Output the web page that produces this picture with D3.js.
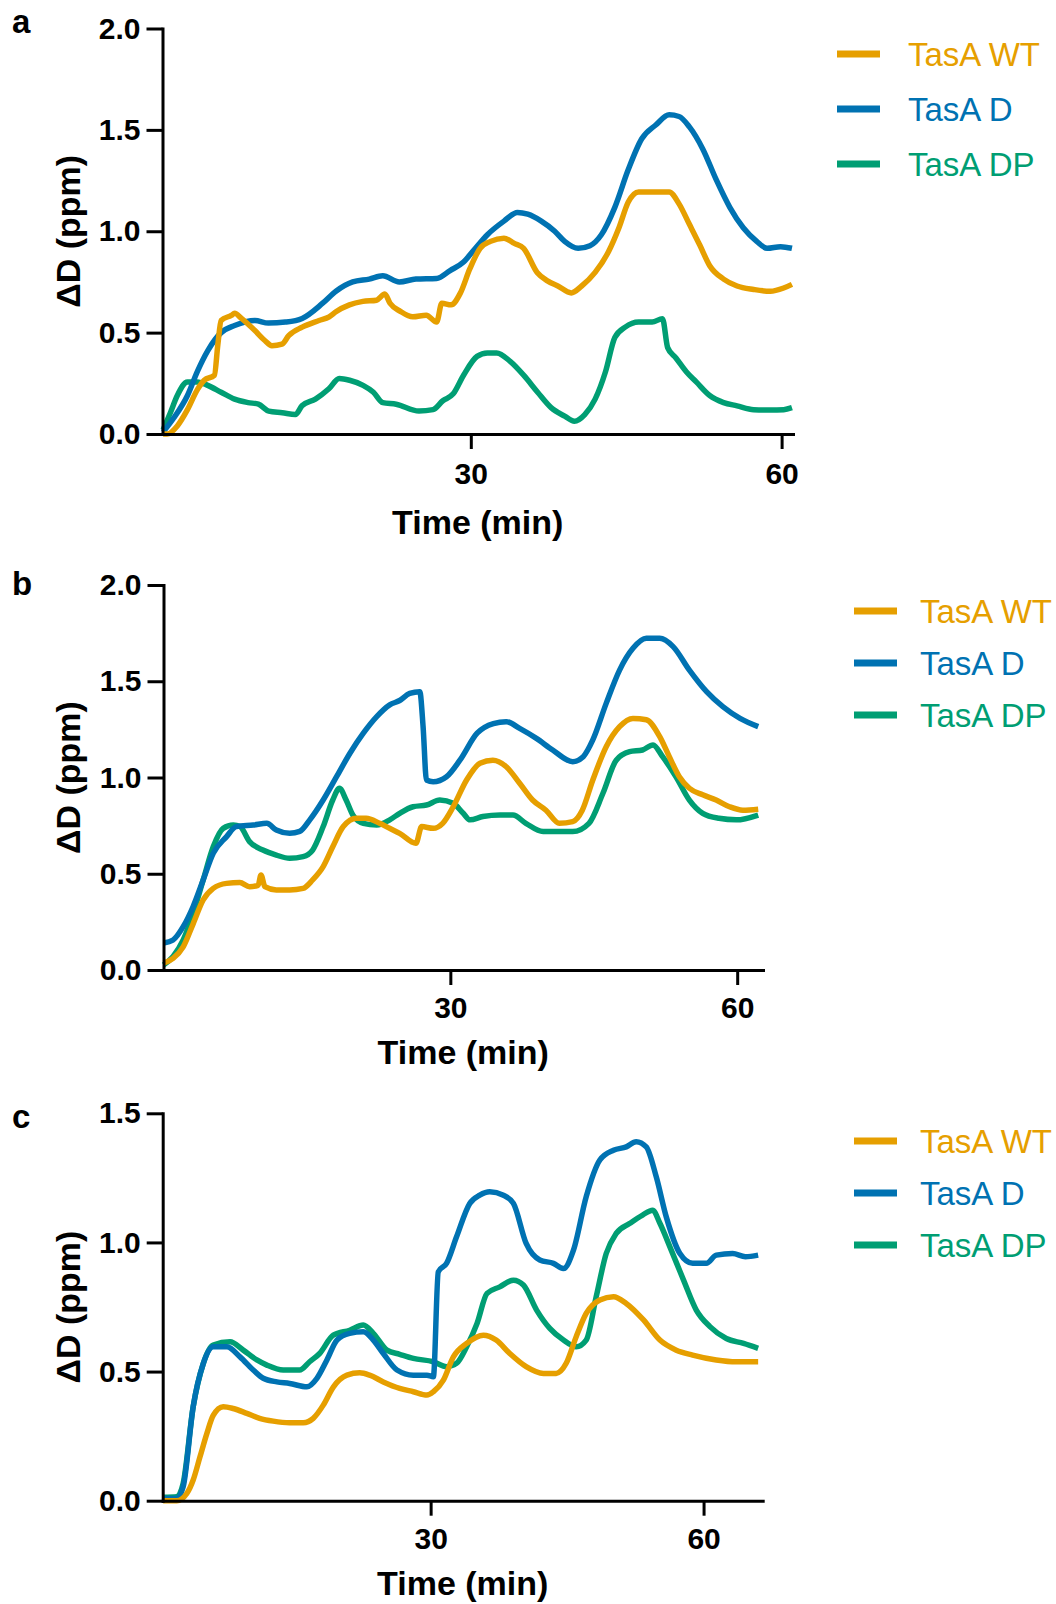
<!DOCTYPE html>
<html>
<head>
<meta charset="utf-8">
<script src="https://cdn.jsdelivr.net/npm/d3@7"></script>
<style>
  html, body { margin: 0; padding: 0; background: #fff; }
  svg { display: block; }
  text { font-family: Arial, "Liberation Sans", sans-serif; }
</style>
</head>
<body>
<svg id="chart" width="1056" height="1604"></svg>
<script>
// ---------------- data (time in min, ΔD in ppm) ----------------
const seriesNames = ["TasA WT", "TasA D", "TasA DP"];
const seriesColors = ["#E69F00", "#0072B2", "#009E73"];
const panelLetters = ["a", "b", "c"];
const xTickValues = [30, 60];
const yTicksAB = [0, 0.5, 1.0, 1.5, 2.0];
const yTicksC = [0, 0.5, 1.0, 1.5];
const xTitle = "Time (min)";
const yTitle = "ΔD (ppm)";

const aWT = [[0.3,0.0],[0.69,0.0],[1.67,0.04],[2.65,0.12],[3.62,0.22],[4.27,0.265],[5.25,0.29],[5.58,0.44],[5.9,0.56],[6.88,0.585],[7.2,0.595],[7.86,0.57],[9.16,0.51],[10.14,0.46],[10.8,0.435],[11.77,0.443],[12.42,0.485],[13.72,0.527],[15.35,0.56],[16.33,0.578],[16.98,0.603],[18.28,0.637],[19.58,0.654],[20.9,0.66],[21.7,0.69],[22.2,0.645],[23.2,0.605],[24.4,0.578],[25.7,0.586],[26.7,0.552],[27.2,0.645],[28.1,0.637],[29,0.696],[29.9,0.814],[30.9,0.916],[31.9,0.95],[33.2,0.966],[34.2,0.94],[35.1,0.916],[36.4,0.797],[37.4,0.755],[38.4,0.73],[39.7,0.696],[40.7,0.73],[42,0.797],[43.3,0.9],[44.3,1.017],[45.2,1.144],[46.2,1.194],[47.85,1.194],[49.15,1.194],[50.1,1.135],[51.1,1.034],[52.1,0.932],[53.06,0.83],[54.4,0.764],[55.7,0.73],[57.3,0.713],[58.9,0.704],[60.2,0.72],[61,0.738]];
const aD = [[0.3,0.01],[1.34,0.08],[2.65,0.19],[3.62,0.31],[4.6,0.41],[5.9,0.5],[7.2,0.535],[9.16,0.56],[10.46,0.547],[12.1,0.552],[13.72,0.57],[15.7,0.645],[16.98,0.704],[18.6,0.75],[20.2,0.764],[21.5,0.78],[23.1,0.75],[24.7,0.764],[26.7,0.767],[28,0.806],[29.3,0.848],[30.3,0.907],[31.6,0.983],[33.2,1.05],[34.5,1.093],[35.5,1.084],[36.8,1.05],[38.1,1.0],[39.06,0.95],[40.36,0.916],[41.5,0.929],[42.6,0.983],[43.9,1.118],[45.2,1.304],[46.5,1.456],[47.85,1.524],[49.15,1.574],[50.1,1.566],[51.1,1.515],[52.4,1.405],[53.7,1.253],[55,1.118],[56.3,1.017],[57.6,0.95],[58.6,0.916],[59.9,0.924],[61,0.916]];
const aDP = [[0.3,0.02],[1.0,0.105],[1.67,0.19],[2.65,0.257],[3.6,0.257],[4.6,0.24],[5.9,0.206],[7.2,0.172],[8.5,0.155],[9.5,0.147],[10.5,0.113],[11.8,0.105],[13.07,0.096],[13.7,0.139],[15.0,0.172],[16.3,0.223],[17.3,0.274],[18.3,0.265],[19.6,0.24],[20.6,0.206],[21.5,0.155],[22.8,0.147],[25,0.113],[26.35,0.12],[27.3,0.164],[28.3,0.198],[29.3,0.29],[30.6,0.383],[31.6,0.4],[32.5,0.4],[33.8,0.358],[35.1,0.29],[36.45,0.206],[37.75,0.13],[39.06,0.088],[40,0.063],[41,0.096],[42,0.172],[43,0.307],[43.9,0.476],[44.9,0.527],[46.2,0.552],[47.5,0.552],[48.5,0.569],[49,0.426],[49.8,0.375],[50.8,0.307],[51.76,0.257],[53.06,0.19],[54.4,0.155],[55.7,0.139],[57.3,0.12],[58.9,0.118],[60.2,0.12],[61,0.13]];

const bWT = [[0,0.035],[1.0,0.06],[2.06,0.12],[3.1,0.24],[4.15,0.364],[5.2,0.424],[6.6,0.45],[7.98,0.454],[9.0,0.433],[9.9,0.44],[10.2,0.494],[10.6,0.433],[11.8,0.416],[13.2,0.416],[14.6,0.424],[15.6,0.468],[16.7,0.537],[17.7,0.64],[18.8,0.745],[20.2,0.788],[21.2,0.788],[22.6,0.762],[23.65,0.736],[24.7,0.71],[26.4,0.658],[27,0.745],[28.2,0.736],[29.2,0.762],[30.3,0.848],[31.7,0.987],[33.1,1.074],[34.45,1.09],[35.85,1.056],[37.25,0.97],[38.6,0.883],[40.0,0.83],[41.4,0.762],[42.8,0.771],[43.8,0.83],[44.9,0.987],[46.3,1.16],[47.7,1.264],[49.1,1.307],[50.5,1.3],[51.9,1.212],[52.9,1.108],[53.95,1.004],[55,0.944],[56.4,0.91],[57.8,0.883],[59.2,0.848],[60.6,0.83],[62.2,0.835]];
const bD = [[0,0.14],[1,0.156],[2.06,0.225],[3.1,0.33],[4.15,0.468],[5.2,0.606],[6.6,0.693],[7.6,0.745],[9.4,0.753],[10.8,0.762],[11.8,0.727],[13.2,0.71],[14.25,0.72],[15.3,0.78],[16.7,0.883],[18.1,1.004],[19.5,1.126],[20.9,1.23],[22.3,1.316],[23.66,1.377],[24.7,1.4],[25.75,1.437],[26.8,1.446],[27.15,1.264],[27.5,0.987],[28.2,0.978],[29.6,1.004],[31.0,1.09],[32.8,1.23],[34.5,1.28],[35.85,1.29],[37.25,1.255],[39,1.203],[40.7,1.143],[42.8,1.082],[43.9,1.108],[44.9,1.195],[46.3,1.385],[47.7,1.558],[49.1,1.671],[50.5,1.723],[51.9,1.723],[53.3,1.68],[55,1.558],[56.8,1.446],[58.5,1.368],[60.3,1.307],[62.2,1.264]];
const bDP = [[0,0.026],[1,0.07],[2.06,0.156],[3.1,0.294],[4.15,0.468],[5.2,0.64],[6.24,0.736],[7.3,0.753],[8.0,0.745],[9.0,0.667],[10.4,0.623],[11.8,0.597],[13.2,0.58],[14.6,0.589],[15.6,0.623],[16.7,0.745],[17.7,0.883],[18.4,0.944],[19.1,0.883],[19.8,0.805],[20.9,0.762],[22.3,0.753],[23.66,0.78],[24.7,0.814],[26.1,0.848],[27.5,0.857],[28.9,0.883],[30.3,0.866],[31.35,0.814],[32.06,0.78],[33.4,0.797],[35.2,0.805],[36.55,0.805],[37.9,0.762],[39.7,0.719],[41.4,0.719],[42.8,0.719],[44.5,0.762],[45.96,0.918],[47.35,1.09],[48.75,1.134],[50.1,1.143],[51.2,1.169],[52.2,1.108],[53.6,1.004],[55,0.883],[56.4,0.814],[58.1,0.788],[59.9,0.78],[62.2,0.805]];

const cWT = [[0.6,0],[2.1,0],[3.2,0.028],[3.9,0.08],[4.65,0.17],[5.4,0.26],[6.1,0.33],[7.2,0.364],[8.3,0.357],[9.8,0.338],[11.2,0.319],[12.7,0.308],[14.5,0.302],[16,0.302],[17.1,0.319],[18.2,0.37],[19.3,0.44],[20.8,0.486],[22.2,0.495],[23.3,0.486],[24.8,0.46],[26.6,0.435],[28.1,0.422],[29.6,0.409],[30.3,0.422],[31.4,0.467],[32.5,0.557],[33.96,0.609],[35.8,0.641],[37.2,0.622],[38.7,0.57],[40.5,0.519],[42.4,0.493],[43.8,0.493],[44.9,0.532],[46,0.635],[47.1,0.725],[48.6,0.777],[50.1,0.79],[51.5,0.764],[53.4,0.7],[55.2,0.622],[57,0.583],[58.8,0.564],[61.4,0.545],[63.6,0.538],[66,0.538]];
const cD = [[0.6,0.009],[2.1,0.009],[2.8,0.054],[3.9,0.364],[5.0,0.53],[6.1,0.596],[7.6,0.596],[9.05,0.557],[10.5,0.506],[11.6,0.474],[13.1,0.46],[14.5,0.454],[16.4,0.441],[17.5,0.474],[18.6,0.545],[19.7,0.622],[21.1,0.648],[22.6,0.654],[23.7,0.622],[24.8,0.57],[26.3,0.506],[28.1,0.486],[29.6,0.486],[30.3,0.48],[30.84,0.886],[31.75,0.919],[32.85,1.022],[34.3,1.151],[35.4,1.183],[36.5,1.196],[38,1.183],[39.1,1.151],[40.5,0.996],[42,0.932],[43.5,0.919],[44.6,0.899],[45.7,0.97],[47.1,1.177],[48.6,1.319],[50.1,1.357],[51.5,1.37],[52.6,1.39],[53.7,1.37],[54.8,1.254],[55.9,1.099],[57.4,0.957],[58.8,0.919],[60.3,0.919],[61.4,0.951],[63.2,0.957],[64.6,0.945],[66,0.951]];
const cDP = [[0.6,0.013],[2.1,0.015],[2.8,0.067],[3.9,0.364],[5.0,0.53],[6.1,0.603],[7.95,0.615],[9.4,0.583],[10.9,0.545],[12.0,0.525],[13.8,0.506],[15.6,0.506],[16.7,0.538],[17.8,0.57],[19.3,0.641],[21.1,0.66],[22.6,0.68],[23.7,0.648],[25.2,0.583],[26.6,0.567],[28.1,0.551],[30.3,0.538],[31.75,0.519],[32.85,0.532],[33.96,0.596],[35.1,0.686],[36.2,0.803],[37.6,0.828],[39.1,0.854],[40.2,0.835],[41.65,0.738],[43.1,0.667],[44.6,0.622],[46,0.596],[47.1,0.622],[48.2,0.79],[49.3,0.957],[50.4,1.035],[51.9,1.074],[53.3,1.106],[54.4,1.125],[55.2,1.074],[56.3,0.983],[57.8,0.854],[59.2,0.738],[60.7,0.674],[62.5,0.628],[64.4,0.609],[66,0.59]];

// ---------------- layout ----------------
const layout = [
  { left: 162.5, right: 793, top: 28.5, bottom: 434, xDomain: [0.24, 61.1], yMax: 2, yTicks: yTicksAB,
    letterY: 33, xLabelPad: 14, xTitleY: 534, legendX: 837, legendY: 54, legendGap: 55, legendTextDx: 71 },
  { left: 163.5, right: 763, top: 585, bottom: 970, xDomain: [0, 62.7], yMax: 2, yTicks: yTicksAB,
    letterY: 595, xLabelPad: 12, xTitleY: 1064, legendX: 854, legendY: 611, legendGap: 52, legendTextDx: 66 },
  { left: 162.7, right: 762.7, top: 1113.3, bottom: 1500.7, xDomain: [0.55, 66.5], yMax: 1.5, yTicks: yTicksC,
    letterY: 1128, xLabelPad: 12, xTitleY: 1595, legendX: 854, legendY: 1141, legendGap: 52, legendTextDx: 66 }
];
const panelData = [[aWT, aD, aDP], [bWT, bD, bDP], [cWT, cD, cDP]];
const drawOrder = [2, 1, 0]; // DP, D, WT (WT on top)

const svg = d3.select("#chart");

layout.forEach((L, pi) => {
  const g = svg.append("g");
  const x = d3.scaleLinear().domain(L.xDomain).range([L.left, L.right]);
  const y = d3.scaleLinear().domain([0, L.yMax]).range([L.bottom, L.top]);

  // data lines
  const line = d3.line().x(d => x(d[0])).y(d => y(d[1])).curve(d3.curveMonotoneX);
  drawOrder.forEach(si => {
    g.append("path")
      .datum(panelData[pi][si])
      .attr("fill", "none")
      .attr("stroke", seriesColors[si])
      .attr("stroke-width", 5.5)
      .attr("stroke-linejoin", "round")
      .attr("d", line);
  });

  // y axis
  const yAxis = d3.axisLeft(y).tickValues(L.yTicks).tickFormat(d3.format(".1f"))
    .tickSize(16).tickPadding(6).tickSizeOuter(0);
  const gy = g.append("g").attr("transform", `translate(${L.left},0)`).call(yAxis);
  // x axis
  const xAxis = d3.axisBottom(x).tickValues(xTickValues).tickFormat(d3.format("d"))
    .tickSize(15).tickPadding(L.xLabelPad).tickSizeOuter(0);
  const gx = g.append("g").attr("transform", `translate(0,${L.bottom})`).call(xAxis);

  [gy, gx].forEach(ax => {
    ax.select(".domain").attr("stroke", "#000").attr("stroke-width", 3).attr("stroke-linecap", "square");
    ax.selectAll(".tick line").attr("stroke", "#000").attr("stroke-width", 3);
    ax.selectAll(".tick text").attr("fill", "#000")
      .style("font-family", "Arial, 'Liberation Sans', sans-serif")
      .style("font-size", "30px").style("font-weight", "bold");
  });

  // axis titles
  g.append("text")
    .attr("x", (L.left + L.right) / 2).attr("y", L.xTitleY)
    .attr("text-anchor", "middle")
    .style("font-size", "34px").style("font-weight", "bold")
    .text(xTitle);
  g.append("text")
    .attr("transform", `translate(80,${(L.top + L.bottom) / 2}) rotate(-90)`)
    .attr("text-anchor", "middle")
    .style("font-size", "34px").style("font-weight", "bold")
    .text(yTitle);

  // panel letter
  g.append("text").attr("x", 12).attr("y", L.letterY)
    .style("font-size", "33px").style("font-weight", "bold")
    .text(panelLetters[pi]);

  // legend
  seriesNames.forEach((name, si) => {
    const ly = L.legendY + si * L.legendGap;
    g.append("line")
      .attr("x1", L.legendX).attr("x2", L.legendX + 43)
      .attr("y1", ly).attr("y2", ly)
      .attr("stroke", seriesColors[si]).attr("stroke-width", 7);
    g.append("text")
      .attr("x", L.legendX + L.legendTextDx).attr("y", ly + 11.5)
      .attr("fill", seriesColors[si])
      .style("font-size", "33px")
      .text(name);
  });
});
</script>
</body>
</html>
